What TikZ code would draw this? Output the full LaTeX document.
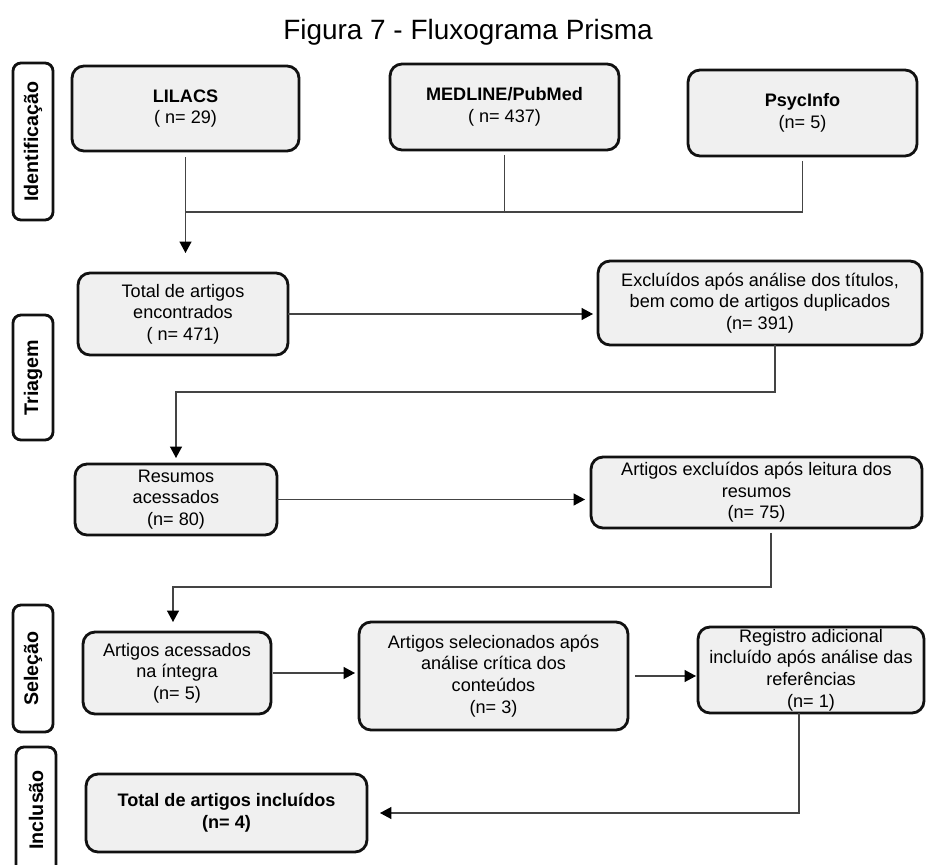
\documentclass[tikz,border=0pt]{standalone}
\usepackage{fontspec}
\setmainfont{Liberation Sans}
\usetikzlibrary{positioning,arrows.meta,calc}
\definecolor{boxfill}{HTML}{F0F0F0}
\definecolor{boxline}{HTML}{111111}
\definecolor{linkline}{HTML}{444444}

\begin{document}
\begin{tikzpicture}[x=0.02cm,y=-0.02cm,
  stage/.style={rounded corners=0.24cm, fill=boxfill, draw=boxline, line width=1.6pt, inner sep=0pt, outer sep=0pt, align=center, font=\fontsize{10.3}{12.3}\selectfont},
  phase/.style={rounded corners=0.16cm, fill=white, draw=boxline, line width=1.6pt, inner sep=0pt, outer sep=0pt, rotate=90, minimum height=0.8cm, font=\fontsize{11.2}{12}\selectfont\bfseries},
  link/.style={draw=linkline, line width=0.8pt},
  flow/.style={link, -{Triangle[length=0.23cm,width=0.24cm,color=black]}}]
\clip (0,0) rectangle (926,865);
\fill[white] (0,0) rectangle (926,865);
\node[anchor=base, font=\fontsize{15.9}{18}\selectfont] (title) at (468,40) {Figura 7 - Fluxograma Prisma};
% fases
\node[phase, minimum width=3.14cm] (ident) at (33,141.5) {Identificação};
\node[phase, minimum width=2.50cm] (triagem) at (33,377.5) {Triagem};
\node[phase, minimum width=2.54cm] (selecao) at (33,668.5) {Seleção};
\node[phase, minimum width=2.52cm] (inclusao) at (36,810) {Inclusão};
% identificacao
\node[stage, minimum width=4.54cm, minimum height=1.70cm] (lilacs) at (185.5,108.5) {\bfseries LILACS\\( n= 29)};
\node[stage, minimum width=4.58cm, minimum height=1.72cm] (medline) at (504.5,107) {\bfseries MEDLINE/PubMed\\( n= 437)};
\node[stage, minimum width=4.58cm, minimum height=1.72cm] (psycinfo) at (802.5,113) {\bfseries PsycInfo\\(n= 5)};
% triagem
\node[stage, minimum width=4.20cm, minimum height=1.64cm] (total) at (183,314) {Total de artigos\\encontrados\\( n= 471)};
\node[stage, minimum width=6.48cm, minimum height=1.68cm] (exclA) at (760,303) {Excluídos após análise dos títulos,\\bem como de artigos duplicados\\(n= 391)};
\node[stage, minimum width=4.04cm, minimum height=1.42cm] (resumos) at (176,499.5) {Resumos\\acessados\\(n= 80)};
\node[stage, minimum width=6.62cm, minimum height=1.42cm] (exclB) at (756.5,492.5) {Artigos excluídos após leitura dos\\resumos\\(n= 75)};
% selecao
\node[stage, minimum width=3.76cm, minimum height=1.64cm] (acessados) at (177,673) {Artigos acessados\\na íntegra\\(n= 5)};
\node[stage, minimum width=5.38cm, minimum height=2.16cm] (selec) at (493.5,676) {Artigos selecionados após\\análise crítica dos\\conteúdos\\(n= 3)};
\node[stage, minimum width=4.52cm, minimum height=1.72cm] (registro) at (811,670) {Registro adicional\\incluído após análise das\\referências\\(n= 1)};
% inclusao
\node[stage, minimum width=5.62cm, minimum height=1.56cm] (incluidos) at (226.5,813) {\bfseries Total de artigos incluídos\\\bfseries (n= 4)};
% ligacoes
\coordinate (merge) at (186,212);
\draw[flow] ([yshift=-0.12cm]lilacs.south) -- ([yshift=0.4cm]lilacs.south |- total.north);
\draw[link] ([yshift=-0.1cm]medline.south) -- (medline.south |- merge);
\draw[link] ([yshift=-0.1cm]psycinfo.south) |- (merge);
\draw[flow] (total.east) -- ([xshift=-0.1cm]total.east -| exclA.west);
\draw[flow] ([xshift=0.3cm]exclA.south) -- ++(0,47) -| ([yshift=0.12cm]resumos.north);
\draw[flow] (resumos.east) -- ([xshift=-0.12cm]resumos.east -| exclB.west);
\draw[flow] ([xshift=0.29cm,yshift=-0.1cm]exclB.south) -- ++(0,54) -| ([xshift=-0.08cm,yshift=0.2cm]acessados.north);
\draw[flow] ([xshift=0.04cm]acessados.east) -- ([xshift=-0.08cm]acessados.east -| selec.west);
\draw[flow] ([xshift=0.14cm]selec.east) -- ([xshift=-0.04cm]selec.east -| registro.west);
\draw[flow] ([xshift=-0.24cm]registro.south) |- ([xshift=0.26cm]incluidos.east);
\end{tikzpicture}
\end{document}
